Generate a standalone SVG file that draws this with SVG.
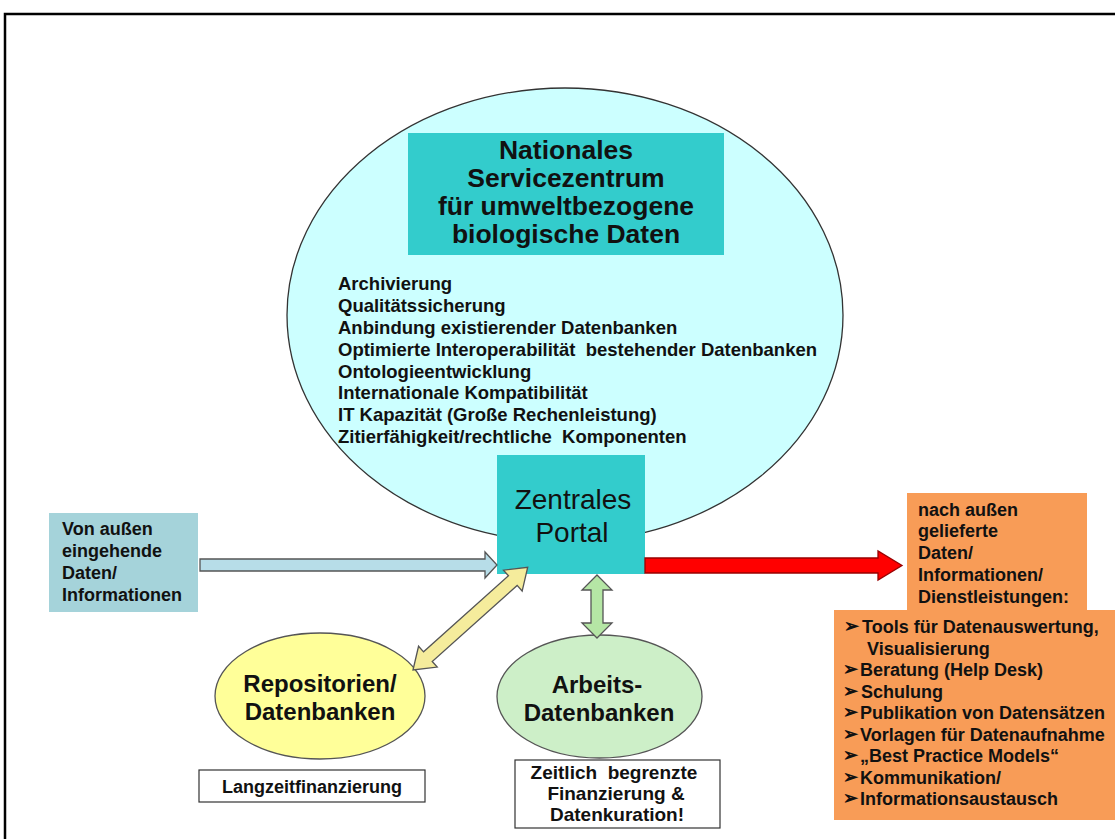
<svg xmlns="http://www.w3.org/2000/svg" width="1115" height="839" viewBox="0 0 1115 839">
<style>
text{font-family:"Liberation Sans",Arial,sans-serif;fill:#111;font-weight:bold}
.t18{font-size:18px}
.list{font-size:18.5px}
.c{text-anchor:middle}
.bul{font-family:"DejaVu Sans",sans-serif;font-size:18px;font-weight:bold}
.conn{stroke:#555;stroke-width:1.3;stroke-linejoin:miter}
</style>
<rect x="0" y="0" width="1115" height="839" fill="#fff"/>
<rect x="5" y="14" width="1125" height="840" fill="none" stroke="#000" stroke-width="2.5"/>

<g id="servicezentrum">
<ellipse cx="565" cy="315" rx="278" ry="227" fill="#CCFFFF" stroke="#333" stroke-width="1.3"/>
<g class="list">
<text x="338" y="290">Archivierung</text>
<text x="338" y="312">Qualitätssicherung</text>
<text x="338" y="334">Anbindung existierender Datenbanken</text>
<text x="338" y="356" xml:space="preserve">Optimierte Interoperabilität  bestehender Datenbanken</text>
<text x="338" y="378">Ontologieentwicklung</text>
<text x="338" y="399">Internationale Kompatibilität</text>
<text x="338" y="421">IT Kapazität (Große Rechenleistung)</text>
<text x="338" y="443" xml:space="preserve">Zitierfähigkeit/rechtliche  Komponenten</text>
</g>
</g>

<g id="title">
<rect x="408" y="133" width="316" height="122" fill="#33CCCC"/>
<g class="c" style="font-size:26.5px">
<text x="566" y="159">Nationales</text>
<text x="566" y="187">Servicezentrum</text>
<text x="566" y="215">für umweltbezogene</text>
<text x="566" y="243">biologische Daten</text>
</g>
</g>

<g id="portal">
<rect x="497" y="455" width="148" height="119" fill="#33CCCC"/>
<text x="573" y="509" class="c" style="font-size:28px;font-weight:normal">Zentrales</text>
<text x="572" y="542" class="c" style="font-size:28px;font-weight:normal">Portal</text>
</g>

<g id="eingehend">
<rect x="49" y="513" width="149" height="99" fill="#A5D3DA"/>
<text x="62" y="535" class="t18">Von außen</text>
<text x="62" y="557" class="t18">eingehende</text>
<text x="62" y="579" class="t18">Daten/</text>
<text x="62" y="601" class="t18">Informationen</text>
</g>

<g id="geliefert">
<rect x="907" y="493" width="180" height="120" fill="#F89C57"/>
<rect x="834" y="610" width="290" height="210" fill="#F89C57"/>
<text x="918" y="516" class="t18">nach außen</text>
<text x="918" y="537" class="t18">gelieferte</text>
<text x="918" y="559" class="t18">Daten/</text>
<text x="918" y="581" class="t18">Informationen/</text>
<text x="918" y="603" class="t18">Dienstleistungen:</text>
<g class="bul">
<text x="844" y="632">➢</text>
<text x="843" y="675">➢</text>
<text x="843" y="696.5">➢</text>
<text x="843" y="718">➢</text>
<text x="843" y="739.5">➢</text>
<text x="843" y="761">➢</text>
<text x="843" y="782.5">➢</text>
<text x="843" y="804">➢</text>
</g>
<g class="t18">
<text x="862" y="633">Tools für Datenauswertung,</text>
<text x="867" y="654.5">Visualisierung</text>
<text x="860" y="676">Beratung (Help Desk)</text>
<text x="861" y="697.5">Schulung</text>
<text x="860" y="719">Publikation von Datensätzen</text>
<text x="860" y="740.5">Vorlagen für Datenaufnahme</text>
<text x="860" y="762">„Best Practice Models“</text>
<text x="860" y="783.5">Kommunikation/</text>
<text x="860" y="805">Informationsaustausch</text>
</g>
</g>

<g id="repositorien">
<ellipse cx="320" cy="696" rx="105" ry="63" fill="#FFFF99" stroke="#555" stroke-width="1.3"/>
<text x="320" y="692" class="c" style="font-size:24px">Repositorien/</text>
<text x="320" y="720" class="c" style="font-size:24px">Datenbanken</text>
</g>

<g id="langzeit">
<rect x="199" y="770" width="226" height="32" fill="#fff" stroke="#333" stroke-width="1.2"/>
<text x="312" y="793" class="c t18">Langzeitfinanzierung</text>
</g>

<g id="arbeitsdb">
<ellipse cx="599.5" cy="696.5" rx="102.5" ry="61.5" fill="#CDEFC8" stroke="#555" stroke-width="1.3"/>
<text x="597" y="693" class="c" style="font-size:24px">Arbeits-</text>
<text x="599" y="721" class="c" style="font-size:24px">Datenbanken</text>
</g>

<g id="zeitlich">
<rect x="515" y="760" width="205" height="68" fill="#fff" stroke="#333" stroke-width="1.2"/>
<text x="614" y="779" class="c" style="font-size:19px" xml:space="preserve">Zeitlich  begrenzte</text>
<text x="616" y="800" class="c" style="font-size:19px">Finanzierung &amp;</text>
<text x="617" y="821" class="c" style="font-size:19px">Datenkuration!</text>
</g>

<g id="connectors" class="conn">
<polygon points="200,559 485,559 485,552 497,565 485,578 485,571 200,571" fill="#B7DDE8"/>
<polygon points="645,558 878,558 878,551 902,565.5 878,580 878,573 645,573" fill="#FF0000" stroke="#900"/>
<polygon transform="translate(413,670) rotate(-41.85)" points="0,0 20,-14 20,-6.5 134,-6.5 134,-14 154,0 134,14 134,6.5 20,6.5 20,14" fill="#F5EC9C"/>
<polygon points="597,575 612,590 603,590 603,623 612,623 597,638 582,623 591,623 591,590 582,590" fill="#B5E6A5"/>
</g>
</svg>
